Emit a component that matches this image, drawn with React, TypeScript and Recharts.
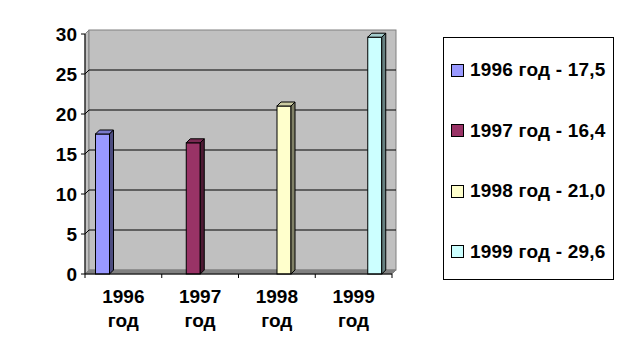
import React from 'react';
import { BarChart, Bar, XAxis, YAxis, ReferenceArea } from 'recharts';

const CATEGORIES = ['1996 год', '1997 год', '1998 год', '1999 год'];
const VALUES = [17.5, 16.4, 21.0, 29.6];
const SERIES_LABELS = ['1996 год - 17,5', '1997 год - 16,4', '1998 год - 21,0', '1999 год - 29,6'];
const COLORS = ['#9999FF', '#993366', '#FFFFCC', '#CCFFFF'];
const Y_TICKS = [0, 5, 10, 15, 20, 25, 30];

const DEPTH = 4;
const FONT = '"Liberation Sans", Arial, sans-serif';

// each category holds one series (Excel style "one point per series")
const data = CATEGORIES.map((name, i) => {
  const row: Record<string, string | number | null> = { name };
  VALUES.forEach((v, j) => {
    row[`s${j}`] = i === j ? v : null;
  });
  return row;
});

const shade = (hex: string, k: number) => {
  const n = parseInt(hex.slice(1), 16);
  const r = Math.round(((n >> 16) & 255) * k);
  const g = Math.round(((n >> 8) & 255) * k);
  const b = Math.round((n & 255) * k);
  return `rgb(${r},${g},${b})`;
};

const makeBarShape = (color: string) => (props: any) => {
  const { x, y, width, height } = props;
  if (!height || height <= 0) return <g />;
  const d = DEPTH;
  return (
    <g stroke="#000" strokeWidth={1}>
      <rect x={x} y={y} width={width} height={height} fill={color} />
      <polygon
        points={`${x},${y} ${x + d},${y - d} ${x + width + d},${y - d} ${x + width},${y}`}
        fill={shade(color, 0.8)}
      />
      <polygon
        points={`${x + width},${y} ${x + width + d},${y - d} ${x + width + d},${y + height - d} ${x + width},${y + height}`}
        fill={shade(color, 0.5)}
      />
    </g>
  );
};

const Walls = (props: any) => {
  const { x, y, width, height } = props;
  const d = DEPTH;
  const min = Y_TICKS[0];
  const max = Y_TICKS[Y_TICKS.length - 1];
  const bottom = y + height;
  return (
    <g>
      <polygon
        points={`${x},${bottom} ${x},${y} ${x + d},${y - d} ${x + d},${bottom - d}`}
        fill="#C0C0C0"
        stroke="#808080"
      />
      <rect x={x + d} y={y - d} width={width} height={height} fill="#C0C0C0" stroke="#808080" />
      {Y_TICKS.filter(v => v !== min && v !== max).map(v => {
        const yy = y + height * (1 - (v - min) / (max - min));
        return (
          <polyline
            key={v}
            points={`${x},${yy} ${x + d},${yy - d} ${x + width + d},${yy - d}`}
            fill="none"
            stroke="#000"
          />
        );
      })}
      <polygon
        points={`${x},${bottom} ${x + d},${bottom - d} ${x + width + d},${bottom - d} ${x + width},${bottom}`}
        fill="#808080"
        stroke="#808080"
      />
    </g>
  );
};

const CategoryTick = (props: any) => {
  const { x, y, payload, index, visibleTicksCount } = props;
  const half = payload?.offset ?? 0;
  const axisY = y - 6;
  const [year, word] = String(payload.value).split(' ');
  return (
    <g>
      <line x1={x - half} y1={axisY} x2={x - half} y2={axisY + 4} stroke="#000" />
      {index === visibleTicksCount - 1 && (
        <line x1={x + half} y1={axisY} x2={x + half} y2={axisY + 4} stroke="#000" />
      )}
      <text
        textAnchor="middle"
        fill="#000"
        style={{ fontFamily: FONT, fontWeight: 700, fontSize: 19 }}
      >
        <tspan x={x} y={y + 23}>{year}</tspan>
        <tspan x={x} y={y + 47}>{word}</tspan>
      </text>
    </g>
  );
};

const LegendBox = () => (
  <div
    style={{
      position: 'absolute',
      left: 443,
      top: 37,
      width: 169,
      height: 241,
      border: '1px solid #000',
      background: '#fff',
    }}
  >
    {SERIES_LABELS.map((label, i) => (
      <div
        key={label}
        style={{
          position: 'absolute',
          left: 7,
          top: 21 + i * 60.5,
          height: 22,
          display: 'flex',
          alignItems: 'center',
          whiteSpace: 'nowrap',
        }}
      >
        <span
          style={{
            display: 'inline-block',
            width: 11,
            height: 11,
            border: '1px solid #000',
            background: COLORS[i],
            marginRight: 6,
          }}
        />
        <span style={{ fontFamily: FONT, fontWeight: 700, fontSize: 19, letterSpacing: 0.2, color: '#000' }}>
          {label}
        </span>
      </div>
    ))}
  </div>
);

export default function App() {
  return (
    <div style={{ position: 'absolute', left: 0, top: 0, width: 625, height: 357, background: '#fff' }}>
      <BarChart
        width={625}
        height={357}
        data={data}
        margin={{ top: 34, right: 233, bottom: 23, left: 25 }}
        barCategoryGap={10.5}
        barGap={0}
      >
        <ReferenceArea y1={0} y2={30} shape={<Walls />} ifOverflow="visible" />
        <XAxis
          dataKey="name"
          height={60}
          tickLine={false}
          tickSize={4}
          tickMargin={2}
          axisLine={{ stroke: '#000' }}
          tick={<CategoryTick />}
          interval={0}
        />
        <YAxis
          width={60}
          domain={[0, 30]}
          ticks={Y_TICKS}
          interval={0}
          tickSize={4}
          tickMargin={4}
          axisLine={{ stroke: '#000' }}
          tickLine={{ stroke: '#000' }}
          tick={{ fill: '#000', fontFamily: FONT, fontWeight: 700, fontSize: 19 }}
        />
        {VALUES.map((_, j) => (
          <Bar
            key={j}
            dataKey={`s${j}`}
            name={SERIES_LABELS[j]}
            fill={COLORS[j]}
            shape={makeBarShape(COLORS[j])}
            isAnimationActive={false}
          />
        ))}
      </BarChart>
      <LegendBox />
    </div>
  );
}
